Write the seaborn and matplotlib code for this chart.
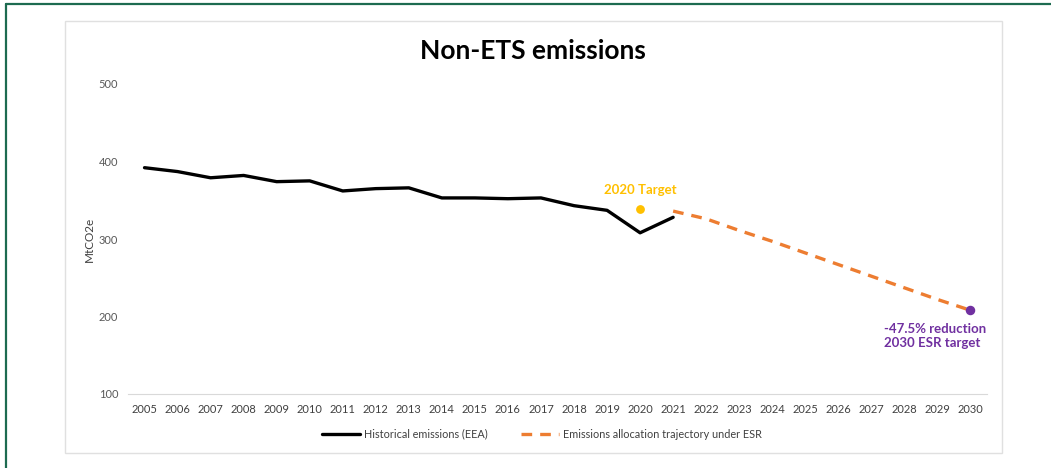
import pandas as pd
import matplotlib.pyplot as plt
import seaborn as sns
from matplotlib.patches import Rectangle
from matplotlib.lines import Line2D

sns.set_theme(style="white")
plt.rcParams['font.family'] = ['Lato', 'DejaVu Sans']

# data
hist_years = [2005, 2006, 2007, 2008, 2009, 2010, 2011, 2012, 2013,
              2014, 2015, 2016, 2017, 2018, 2019, 2020, 2021]
hist_values = [392, 387, 379, 382, 374, 375, 362, 365, 366,
               353, 353, 352, 353, 343, 337, 308, 328]

esr_years = [2021, 2022, 2023, 2024, 2025, 2026, 2027, 2028, 2029, 2030]
esr_values = [336, 326, 311, 297, 282, 267, 252, 237, 222, 208]

target_2020 = (2020, 339)
target_2030 = (2030, 208)

all_years = list(range(2005, 2031))

hist_df = pd.DataFrame({'Year': hist_years, 'MtCO2e': hist_values})
esr_df = pd.DataFrame({'Year': esr_years, 'MtCO2e': esr_values})

W, H = 1051, 468
fig = plt.figure(figsize=(W / 100, H / 100), dpi=100)

# green frame (left and top only) and light chart panel
GREEN = '#1d6b50'
fig.add_artist(Line2D([6 / W, 6 / W], [0, 1 - 4 / H], transform=fig.transFigure,
                      color=GREEN, linewidth=1.6))
fig.add_artist(Line2D([6 / W, 1], [1 - 4 / H, 1 - 4 / H], transform=fig.transFigure,
                      color=GREEN, linewidth=1.6))
fig.patches.append(Rectangle((65 / W, 1 - 453 / H), (1002 - 65) / W, (453 - 21) / H,
                             transform=fig.transFigure, fill=False,
                             edgecolor='#e0e0e0', linewidth=1.0))

ax = fig.add_axes([128 / W, 1 - 394 / H, (987 - 128) / W, (394 - 84) / H])

BLACK = '#000000'
ORANGE = '#ed7d31'
YELLOW = '#ffc000'
PURPLE = '#7030a0'

sns.lineplot(data=hist_df, x='Year', y='MtCO2e', ax=ax, color=BLACK,
             linewidth=2.4, label='Historical emissions (EEA)')
sns.lineplot(data=esr_df, x='Year', y='MtCO2e', ax=ax, color=ORANGE,
             linewidth=2.4, linestyle=(0, (3.2, 2.4)),
             label='Emissions allocation trajectory under ESR')
ax.scatter([target_2020[0]], [target_2020[1]], s=28, color=YELLOW, zorder=5)
ax.scatter([target_2030[0]], [target_2030[1]], s=34, color=PURPLE, zorder=5)

ax.annotate('2020 Target', xy=target_2020, xytext=(0, 9), textcoords='offset points',
            ha='center', va='bottom', color=YELLOW, fontsize=9.5, fontweight='bold')
ax.annotate('-47.5% reduction\n2030 ESR target', xy=target_2030, xytext=(-62, -9),
            textcoords='offset points', ha='left', va='top', color=PURPLE,
            fontsize=9.5, fontweight='bold', linespacing=1.25)

ax.set_xlim(2004.5, 2030.5)
ax.set_ylim(100, 500)
ax.set_yticks([100, 200, 300, 400, 500])
ax.set_xticks(all_years)
ax.set_xticks([y + 0.5 for y in range(2004, 2031)], minor=True)
ax.tick_params(axis='x', which='major', length=0, pad=7, labelsize=8, labelcolor='#404040')
ax.tick_params(axis='x', which='minor', length=4, width=0.8, color='#d9d9d9', direction='out')
ax.tick_params(axis='y', length=0, pad=7, labelsize=8, labelcolor='#595959')

for side in ['top', 'right', 'left']:
    ax.spines[side].set_visible(False)
ax.spines['bottom'].set_color('#d9d9d9')
ax.spines['bottom'].set_linewidth(0.8)
ax.grid(False)

ax.set_xlabel('')
ax.set_ylabel('MtCO2e', fontsize=8.5, color='#404040', labelpad=3)

ax.get_legend().remove()
handles = [Line2D([], [], color=BLACK, linewidth=2.4),
           Line2D([], [], color=ORANGE, linewidth=2.4, linestyle=(0, (3.2, 2.4)))]
fig.legend(handles, ['Historical emissions (EEA)', 'Emissions allocation trajectory under ESR'],
           loc='center', bbox_to_anchor=(542 / W, 1 - 434 / H), ncol=2, frameon=False,
           fontsize=7.8, handlelength=3.5, handletextpad=0.4, columnspacing=3.0,
           labelcolor='#404040')

fig.text(533 / W, 1 - 51 / H, 'Non-ETS emissions', ha='center', va='center',
         fontsize=19, fontweight='bold', color='#000000')

fig.savefig('out.png', dpi=100)
